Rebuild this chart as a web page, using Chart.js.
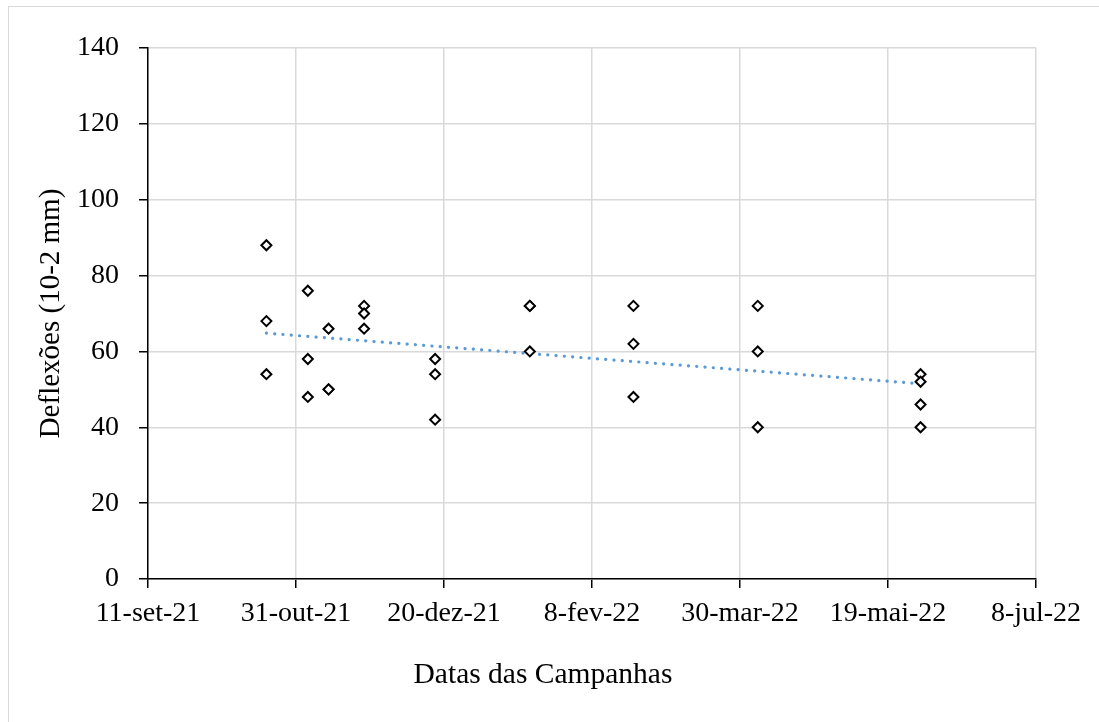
<!DOCTYPE html>
<html lang="pt-BR">
<head>
<meta charset="utf-8">
<title>Deflexões por campanha</title>
<script src="https://cdn.jsdelivr.net/npm/chart.js@4.4.1/dist/chart.umd.min.js"></script>
<style>
  html, body { margin: 0; padding: 0; background: #fff; }
  #grafico { display: block; }
</style>
</head>
<body>
<canvas id="grafico" width="1099" height="722"></canvas>
<script>
// Datas das campanhas de medição
const datasCampanhas = [
    '2021-10-21', '2021-11-04', '2021-11-11', '2021-11-23', '2021-12-17',
    '2022-01-18', '2022-02-22', '2022-04-05', '2022-05-30'
];

// Deflexões medidas em cada campanha (10-2 mm)
const deflexoes = [
    [88, 68, 54],
    [76, 58, 48],
    [66, 50, 50],
    [72, 70, 66],
    [58, 54, 42],
    [72, 72, 60],
    [72, 62, 48],
    [72, 60, 40],
    [54, 52, 46, 40]
];

// Meses abreviados para os rótulos do eixo X
const mesesAbrev = ['jan','fev','mar','abr','mai','jun','jul','ago','set','out','nov','dez'];

// Limites dos eixos
const inicioEixoX = '2021-09-11';
const fimEixoX = '2022-07-08';
const passoDias = 50;
const yMin = 0, yMax = 140, yPasso = 20;

const DIA = 86400000;
const BASE_EXCEL = Date.UTC(1899, 11, 30);

//Converter 'aaaa-mm-dd' em número de série (dias)
function paraSerial(txt) {
    const [a, m, d] = txt.split('-').map(Number);
    return (Date.UTC(a, m - 1, d) - BASE_EXCEL) / DIA;
}

//Formatar número de série como 'd-mmm-aa'
function formatarData(serial) {
    const d = new Date(BASE_EXCEL + Math.round(serial) * DIA);
    return d.getUTCDate() + '-' + mesesAbrev[d.getUTCMonth()] + '-' + String(d.getUTCFullYear()).slice(-2);
}

//Montar os pontos do gráfico
const pontos = [];
datasCampanhas.forEach((data, i) => {
    deflexoes[i].forEach(v => pontos.push({ x: paraSerial(data), y: v }));
});

//Linha de tendência linear (mínimos quadrados)
const n = pontos.length;
const mediaX = pontos.reduce((s, p) => s + p.x, 0) / n;
const mediaY = pontos.reduce((s, p) => s + p.y, 0) / n;
let sxy = 0, sxx = 0;
pontos.forEach(p => {
    sxy += (p.x - mediaX) * (p.y - mediaY);
    sxx += (p.x - mediaX) * (p.x - mediaX);
});
const inclinacao = sxy / sxx;
const intercepto = mediaY - inclinacao * mediaX;
const xIni = Math.min(...pontos.map(p => p.x));
const xFim = Math.max(...pontos.map(p => p.x));
const tendencia = [
    { x: xIni, y: intercepto + inclinacao * xIni },
    { x: xFim, y: intercepto + inclinacao * xFim }
];

const familia = "'Liberation Serif', 'Times New Roman', serif";
const fonteTicks = { family: familia, size: 28 };
const fonteTituloX = { family: familia, size: 29.5 };
const fonteTituloY = { family: familia, size: 29 };

//Fundo branco, moldura e título do eixo X
const molduraPlugin = {
    id: 'moldura',
    beforeDraw(chart) {
        const ctx = chart.ctx;
        ctx.save();
        ctx.fillStyle = '#ffffff';
        ctx.fillRect(0, 0, chart.width, chart.height);
        ctx.strokeStyle = '#d9d9d9';
        ctx.lineWidth = 1;
        ctx.strokeRect(8.5, 6.5, chart.width + 10, chart.height + 10);
        ctx.restore();
    },
    afterDraw(chart) {
        const ctx = chart.ctx;
        ctx.save();
        ctx.font = fonteTituloX.size + 'px ' + fonteTituloX.family;
        ctx.fillStyle = '#000000';
        ctx.textAlign = 'center';
        ctx.textBaseline = 'middle';
        ctx.fillText('Datas das Campanhas', 543, 675);
        ctx.restore();
    }
};

const grafico = document.getElementById('grafico');

new Chart(grafico, {
    type: 'scatter',
    data: {
        datasets: [{
            label: 'Deflexões',
            data: pontos,
            pointStyle: 'rectRot',
            pointRadius: 5,
            pointBorderWidth: 2,
            borderColor: '#000000',
            backgroundColor: '#ffffff',
            order: 1
        }, {
            label: 'Linear (Deflexões)',
            type: 'line',
            data: tendencia,
            borderColor: '#5b9bd5',
            borderWidth: 3.2,
            borderDash: [0.1, 8.2],
            borderCapStyle: 'round',
            pointRadius: 0,
            fill: false,
            order: 2
        }]
    },
    options: {
        responsive: false,
        animation: false,
        layout: { padding: { top: 48, right: 63, bottom: 0, left: 0 } },
        plugins: {
            legend: { display: false },
            tooltip: { enabled: false }
        },
        scales: {
            x: {
                type: 'linear',
                min: paraSerial(inicioEixoX),
                max: paraSerial(fimEixoX),
                afterFit: s => { s.height = 143; },
                border: { color: '#000000', width: 1.5 },
                grid: { color: '#d9d9d9', lineWidth: 1.5, tickColor: '#000000', tickLength: 9 },
                ticks: {
                    stepSize: passoDias,
                    color: '#000000',
                    font: fonteTicks,
                    padding: 9,
                    maxRotation: 0,
                    callback: v => formatarData(v)
                }
            },
            y: {
                min: yMin,
                max: yMax,
                afterFit: s => { s.width = 148; },
                border: { color: '#000000', width: 1.5 },
                grid: { color: '#d9d9d9', lineWidth: 1.5, tickColor: '#000000', tickLength: 9 },
                ticks: {
                    stepSize: yPasso,
                    color: '#000000',
                    font: fonteTicks,
                    padding: 20
                },
                title: {
                    display: true,
                    text: 'Deflexões (10-2 mm)',
                    color: '#000000',
                    font: fonteTituloY,
                    padding: { top: 34, bottom: 0 }
                }
            }
        }
    },
    plugins: [molduraPlugin]
});
</script>
</body>
</html>
